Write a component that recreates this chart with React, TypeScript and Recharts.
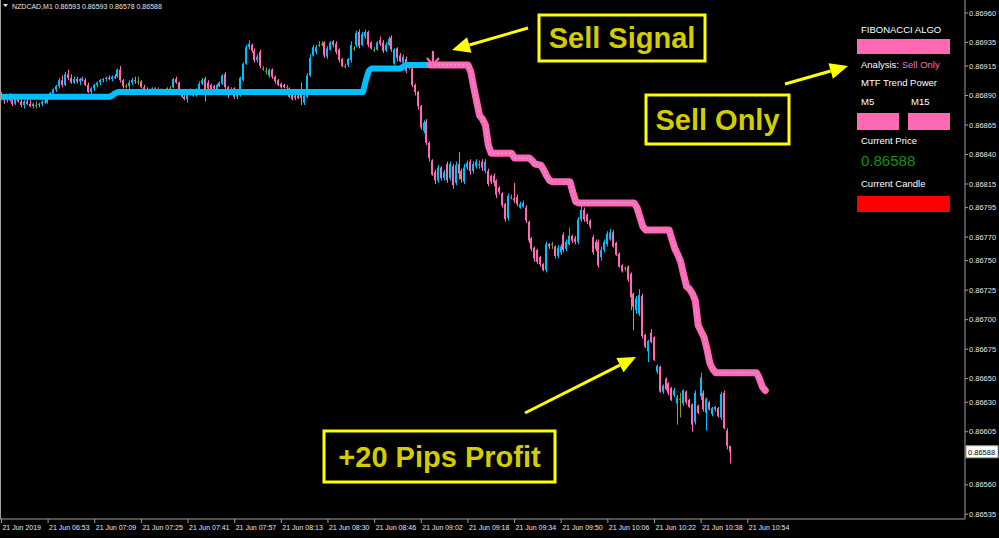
import { Bar, ComposedChart, Line, ReferenceDot, ReferenceLine, XAxis, YAxis } from "recharts";

// prices are stored in points (1 point = 0.00001)
const SYMBOL = "NZDCAD,M1";
const LAST_OHLC = [86593, 86593, 86578, 86588];
const LAST_PRICE = 86588;

const TIME_LABELS = [
  "21 Jun 2019", "21 Jun 06:53", "21 Jun 07:09", "21 Jun 07:25", "21 Jun 07:41", "21 Jun 07:57",
  "21 Jun 08:13", "21 Jun 08:30", "21 Jun 08:46", "21 Jun 09:02", "21 Jun 09:18", "21 Jun 09:34",
  "21 Jun 09:50", "21 Jun 10:06", "21 Jun 10:22", "21 Jun 10:38", "21 Jun 10:54",
];
const BARS_PER_LABEL = 16;
const SLOTS = 331; // chart width in M1 bars, incl. empty space on the right

const Y_TICKS = [
  86960, 86935, 86915, 86890, 86865, 86840, 86815, 86795, 86770, 86750,
  86725, 86700, 86675, 86650, 86630, 86605, 86560, 86535,
];

// open, high, low, close
const CANDLES: [number, number, number, number][] = [
  [86890,86893,86886,86888],[86888,86891,86883,86886],[86886,86890,86884,86889],[86889,86892,86885,86886],
  [86886,86889,86881,86883],[86883,86888,86882,86887],[86887,86890,86884,86885],[86885,86887,86880,86882],
  [86882,86886,86879,86885],[86885,86888,86882,86883],[86883,86886,86880,86881],[86881,86884,86879,86883],
  [86882,86885,86879,86882],[86882,86884,86880,86883],[86883,86886,86881,86885],[86885,86888,86883,86884],
  [86884,86890,86883,86889],[86889,86893,86887,86892],[86892,86896,86890,86895],[86895,86899,86893,86898],
  [86898,86905,86896,86903],[86903,86907,86897,86899],[86899,86910,86898,86908],[86908,86912,86903,86905],
  [86905,86908,86900,86901],[86901,86906,86900,86904],[86904,86906,86900,86902],[86902,86905,86899,86904],
  [86904,86906,86902,86903],[86903,86905,86898,86899],[86899,86901,86892,86893],[86893,86897,86891,86896],
  [86896,86900,86894,86899],[86899,86902,86897,86901],[86901,86904,86899,86903],[86903,86905,86901,86904],
  [86904,86906,86902,86905],[86905,86907,86903,86904],[86904,86907,86902,86906],[86906,86908,86904,86905],
  [86906,86913,86905,86912],[86912,86915,86901,86903],[86903,86904,86896,86898],[86898,86900,86896,86898],
  [86898,86903,86895,86901],[86901,86905,86899,86903],[86903,86906,86900,86902],[86902,86906,86899,86902],
  [86902,86903,86896,86897],[86897,86899,86894,86895],[86895,86897,86892,86894],[86894,86896,86892,86894],
  [86894,86897,86893,86896],[86896,86897,86894,86895],[86895,86897,86893,86895],[86895,86896,86891,86892],
  [86892,86895,86891,86894],[86894,86897,86893,86896],[86896,86898,86894,86896],[86897,86905,86896,86904],
  [86904,86906,86900,86901],[86901,86902,86893,86894],[86894,86895,86888,86889],[86889,86891,86886,86887],
  [86887,86895,86884,86893],[86893,86896,86890,86891],[86891,86893,86889,86890],[86890,86896,86889,86895],
  [86895,86902,86894,86900],[86900,86905,86899,86903],[86904,86906,86885,86895],[86901,86903,86894,86896],
  [86899,86900,86894,86895],[86898,86899,86894,86896],[86895,86900,86894,86899],[86898,86902,86897,86901],
  [86900,86908,86899,86907],[86908,86910,86895,86897],[86897,86898,86888,86894],[86895,86897,86893,86895],
  [86896,86897,86887,86889],[86889,86893,86887,86892],[86891,86906,86889,86905],[86903,86918,86902,86917],
  [86917,86933,86916,86931],[86931,86937,86929,86934],[86933,86934,86926,86928],[86928,86930,86918,86920],
  [86920,86925,86918,86923],[86927,86929,86913,86915],[86913,86915,86911,86913],[86911,86914,86908,86911],
  [86907,86913,86905,86912],[86912,86913,86904,86906],[86906,86907,86900,86902],[86903,86904,86898,86899],
  [86900,86901,86896,86897],[86899,86900,86896,86897],[86897,86899,86894,86897],[86896,86897,86888,86889],
  [86891,86893,86886,86887],[86890,86891,86886,86888],[86890,86891,86887,86888],[86891,86901,86882,86888],
  [86884,86891,86882,86890],[86889,86909,86888,86907],[86907,86925,86906,86922],[86924,86933,86923,86931],
  [86927,86933,86925,86931],[86933,86936,86931,86933],[86934,86936,86932,86934],[86935,86936,86922,86924],
  [86923,86932,86921,86930],[86929,86936,86928,86935],[86936,86937,86931,86933],[86934,86936,86925,86927],
  [86929,86930,86918,86920],[86921,86922,86914,86915],[86915,86917,86913,86915],[86916,86922,86914,86921],
  [86920,86936,86918,86933],[86930,86932,86928,86930],[86933,86945,86931,86943],[86944,86946,86930,86932],
  [86933,86944,86932,86942],[86940,86946,86938,86944],[86944,86945,86931,86933],[86935,86936,86929,86930],
  [86929,86931,86927,86929],[86929,86936,86928,86935],[86937,86940,86932,86934],[86935,86937,86926,86928],
  [86928,86935,86927,86933],[86933,86940,86932,86938],[86939,86941,86927,86929],[86917,86930,86916,86929],
  [86930,86931,86919,86922],[86924,86926,86918,86919],[86918,86925,86916,86923],[86921,86923,86909,86911],
  [86914,86916,86912,86914],[86913,86915,86897,86899],[86899,86900,86890,86893],[86893,86894,86878,86881],
  [86881,86882,86861,86863],[86860,86869,86858,86867],[86868,86870,86848,86850],[86850,86851,86834,86837],
  [86835,86836,86822,86823],[86825,86827,86815,86818],[86818,86831,86816,86829],[86829,86830,86818,86820],
  [86820,86827,86818,86825],[86832,86834,86816,86818],[86820,86834,86818,86832],[86830,86832,86811,86814],
  [86816,86834,86814,86831],[86832,86842,86819,86824],[86826,86828,86816,86819],[86817,86832,86815,86829],
  [86829,86835,86827,86833],[86834,86836,86823,86826],[86826,86834,86824,86832],[86830,86836,86828,86834],
  [86832,86835,86828,86832],[86834,86836,86826,86829],[86826,86836,86824,86834],[86826,86828,86813,86815],
  [86822,86823,86815,86817],[86822,86824,86813,86816],[86818,86819,86803,86806],[86812,86813,86806,86808],
  [86807,86808,86795,86797],[86798,86799,86783,86785],[86786,86807,86784,86805],[86804,86806,86802,86804],
  [86803,86816,86799,86801],[86804,86806,86796,86798],[86795,86800,86794,86798],[86796,86801,86795,86799],
  [86795,86797,86782,86784],[86783,86784,86765,86767],[86769,86770,86758,86760],[86761,86762,86749,86752],
  [86759,86760,86747,86749],[86753,86754,86745,86747],[86747,86748,86741,86742],[86742,86766,86740,86764],
  [86764,86765,86760,86762],[86764,86766,86760,86764],[86762,86763,86752,86754],[86754,86763,86752,86761],
  [86757,86764,86755,86762],[86772,86774,86757,86759],[86760,86768,86758,86766],[86764,86778,86763,86771],
  [86771,86772,86765,86767],[86769,86771,86764,86766],[86766,86787,86764,86785],[86785,86797,86783,86793],
  [86793,86795,86783,86785],[86789,86790,86781,86783],[86784,86785,86777,86779],[86770,86772,86755,86757],
  [86766,86768,86758,86760],[86766,86768,86744,86746],[86753,86762,86750,86759],[86759,86768,86757,86766],
  [86764,86775,86762,86773],[86768,86777,86767,86774],[86774,86776,86761,86762],[86765,86766,86754,86755],
  [86756,86757,86744,86745],[86746,86747,86740,86741],[86744,86745,86741,86744],[86745,86746,86732,86734],
  [86739,86740,86708,86719],[86722,86723,86691,86711],[86708,86720,86705,86718],[86705,86726,86703,86721],
  [86720,86722,86684,86686],[86687,86688,86676,86677],[86673,86683,86664,86682],[86689,86692,86680,86681],
  [86685,86686,86665,86666],[86656,86662,86654,86661],[86660,86661,86638,86639],[86639,86645,86637,86644],
  [86650,86651,86640,86641],[86646,86647,86636,86638],[86642,86643,86631,86632],[86636,86642,86634,86640],
  [86629,86636,86611,86634],[86633,86638,86617,86633],[86629,86641,86627,86640],[86639,86640,86628,86630],
  [86632,86633,86625,86626],[86628,86629,86605,86611],[86613,86640,86611,86638],[86627,86628,86620,86621],
  [86635,86655,86632,86651],[86638,86640,86622,86624],[86621,86634,86606,86633],[86630,86631,86623,86624],
  [86620,86626,86618,86625],[86624,86627,86622,86626],[86625,86626,86617,86618],[86617,86639,86615,86637],
  [86638,86640,86607,86608],[86606,86608,86590,86593],[86593,86593,86578,86588],
];

// trend line vertices [bar index, price]: buy phase then sell phase
const TREND_UP: [number, number][] = [
  [0, 86889], [37, 86889], [38, 86890], [39, 86892], [40, 86893], [124, 86893], [125, 86903],
  [126, 86911], [127, 86913], [137, 86913], [138, 86915], [139, 86916], [148, 86916],
];
const TREND_DN: [number, number][] = [
  [147, 86916], [160, 86916], [161, 86910], [162, 86897], [163, 86885], [164, 86873], [165, 86870],
  [166, 86865], [167, 86848], [168, 86841], [175, 86841], [176, 86837], [181, 86837], [182, 86835],
  [183, 86832], [185, 86831], [186, 86827], [187, 86822], [188, 86818], [189, 86817], [195, 86817],
  [196, 86808], [197, 86800], [198, 86799], [217, 86799], [218, 86795], [219, 86787], [220, 86779],
  [221, 86776], [229, 86776], [230, 86768], [231, 86760], [232, 86755], [233, 86749], [234, 86738],
  [235, 86728], [236, 86726], [237, 86722], [238, 86716], [239, 86695], [240, 86690], [241, 86685],
  [242, 86675], [243, 86663], [244, 86658], [245, 86655], [259, 86655], [260, 86650], [261, 86643],
  [262, 86640],
];
const SIGNAL = { index: 148, price: 86921 };

const BULL = "#00bfff";
const BEAR = "#ff69b4";
const DOJI = "#8c9a1e";
const AXIS = "#a0a0a0";
const TXT = "#e6e6e6";
const FONT = "'Liberation Sans', Arial, sans-serif";

const data = Array.from({ length: SLOTS }, (_, i) => {
  const k = CANDLES[i];
  return {
    i,
    range: k ? [k[2], k[1]] : null,
    o: k ? k[0] : null,
    h: k ? k[1] : null,
    l: k ? k[2] : null,
    c: k ? k[3] : null,
    up: null as number | null,
    dn: null as number | null,
  };
});
TREND_UP.forEach(([i, v]) => (data[i].up = v));
TREND_DN.forEach(([i, v]) => (data[i].dn = v));

const fmt = (v: number) => (v / 100000).toFixed(5);

function Candle(props: any) {
  const { x, y, width, height, payload } = props;
  if (!payload || payload.o == null) return null;
  const { o, h, l, c } = payload;
  const top = Math.min(y, y + height);
  const hh = Math.abs(height);
  const py = (v: number) => (h === l ? top : top + ((h - v) / (h - l)) * hh);
  const cx = Math.floor(x + width / 2);
  const color = c > o ? BULL : c < o ? BEAR : DOJI;
  const bt = py(Math.max(o, c));
  const bb = py(Math.min(o, c));
  return (
    <g>
      <rect x={cx} y={top} width={1} height={Math.max(1, hh)} fill={color} />
      <rect x={cx - 1} y={bt} width={2} height={Math.max(1, bb - bt)} fill={color} />
    </g>
  );
}

function TimeTick(props: any) {
  const { x, y, payload } = props;
  const label = TIME_LABELS[payload.value / BARS_PER_LABEL];
  if (!label) return null;
  return (
    <text x={x + 1} y={y + 5} fill={TXT} fontSize={7} fontFamily={FONT} textAnchor="start">
      {label}
    </text>
  );
}

function PriceTag(props: any) {
  const { viewBox } = props;
  const x = viewBox.x + viewBox.width + 1;
  return (
    <g>
      <rect x={x} y={viewBox.y - 6} width={32} height={12} fill="#fff" stroke={AXIS} />
      <text x={x + 2} y={viewBox.y + 3} fontSize={7.5} fontFamily={FONT} fill="#000">
        {fmt(LAST_PRICE)}
      </text>
    </g>
  );
}

function SignalArrow(props: any) {
  const { cx, cy } = props;
  return (
    <path
      d={`M${cx},${cy - 8} L${cx},${cy + 6} M${cx - 6},${cy - 1} L${cx},${cy + 6} L${cx + 6},${cy - 1}`}
      stroke={BEAR}
      strokeWidth={2.2}
      fill="none"
    />
  );
}

function YellowArrow({ x1, y1, x2, y2 }: { x1: number; y1: number; x2: number; y2: number }) {
  const a = Math.atan2(y2 - y1, x2 - x1);
  const len = 18;
  const hw = 8;
  const bx = x2 - Math.cos(a) * len;
  const by = y2 - Math.sin(a) * len;
  const nx = -Math.sin(a) * hw;
  const ny = Math.cos(a) * hw;
  return (
    <g>
      <line x1={x1} y1={y1} x2={bx} y2={by} stroke="#ffff00" strokeWidth={3} />
      <polygon points={`${x2},${y2} ${bx + nx},${by + ny} ${bx - nx},${by - ny}`} fill="#ffff00" />
    </g>
  );
}

function Callout({ x, y, w, h, text, size }: { x: number; y: number; w: number; h: number; text: string; size: number }) {
  return (
    <g>
      <rect x={x} y={y} width={w} height={h} fill="#000" stroke="#ffff00" strokeWidth={3} />
      <text
        x={x + w / 2}
        y={y + h / 2 + size * 0.36}
        textAnchor="middle"
        fontSize={size}
        fontWeight="bold"
        fontFamily={FONT}
        fill="#d2cc00"
      >
        {text}
      </text>
    </g>
  );
}

export default function App() {
  return (
    <div style={{ position: "fixed", left: 0, top: 0, width: 999, height: 538, background: "#000" }}>
      <ComposedChart width={999} height={538} data={data} margin={{ top: 0, right: 0, left: 0, bottom: 0 }}>
        <XAxis
          dataKey="i"
          type="category"
          ticks={TIME_LABELS.map((_, k) => k * BARS_PER_LABEL)}
          interval={0}
          height={19}
          tickSize={4}
          tickMargin={2}
          axisLine={{ stroke: AXIS }}
          tickLine={{ stroke: AXIS }}
          tick={<TimeTick />}
        />
        <YAxis
          orientation="right"
          type="number"
          width={34}
          domain={[86531, 86971]}
          allowDataOverflow
          ticks={Y_TICKS}
          interval={0}
          tickSize={3}
          tickMargin={1}
          tickFormatter={fmt}
          axisLine={{ stroke: AXIS }}
          tickLine={{ stroke: AXIS }}
          tick={{ fill: TXT, fontSize: 7.5, fontFamily: FONT }}
        />
        <Bar dataKey="range" barSize={3} shape={<Candle />} isAnimationActive={false} />
        <Line dataKey="up" stroke={BULL} strokeWidth={6} dot={false} activeDot={false} connectNulls strokeLinejoin="round" isAnimationActive={false} />
        <Line dataKey="dn" stroke={BEAR} strokeWidth={7} dot={false} activeDot={false} connectNulls strokeLinecap="round" strokeLinejoin="round" isAnimationActive={false} />
        <Line dataKey="dn" stroke="#c8a6ec" strokeWidth={1.2} strokeDasharray="2 2" dot={false} activeDot={false} connectNulls isAnimationActive={false} />
        <ReferenceDot x={SIGNAL.index} y={SIGNAL.price} r={0} shape={<SignalArrow />} />
        <ReferenceLine y={LAST_PRICE} stroke="none" label={<PriceTag />} />
      </ComposedChart>

      <svg width={999} height={538} style={{ position: "absolute", left: 0, top: 0, pointerEvents: "none" }}>
        <line x1={0.5} y1={0} x2={0.5} y2={519} stroke={AXIS} />
        <path d="M3,4 L8,4 L5.5,7 Z" fill={TXT} />
        <text x={12} y={9} fontSize={7} fontFamily={FONT} fill={TXT}>
          {`${SYMBOL}  ${LAST_OHLC.map(fmt).join(" ")}`}
        </text>

        <g fontFamily={FONT} fontSize={9.5} fill="#ffffff">
          <text x={861} y={33}>FIBONACCI ALGO</text>
          <rect x={857} y={39} width={93} height={15} fill={BEAR} />
          <text x={861} y={68}>
            Analysis: <tspan fill={BEAR}>Sell Only</tspan>
          </text>
          <text x={861} y={86}>MTF Trend Power</text>
          <text x={861} y={105}>M5</text>
          <text x={911} y={105}>M15</text>
          <rect x={857} y={113} width={42} height={17} fill={BEAR} />
          <rect x={908} y={113} width={42} height={17} fill={BEAR} />
          <text x={861} y={144}>Current Price</text>
          <text x={861} y={166} fontSize={15} fill="#109010">{fmt(LAST_PRICE)}</text>
          <text x={861} y={187}>Current Candle</text>
          <rect x={857} y={196} width={93} height={16} fill="#ff0000" />
        </g>

        <YellowArrow x1={528} y1={28} x2={452} y2={50} />
        <YellowArrow x1={785} y1={84} x2={848} y2={66} />
        <YellowArrow x1={525} y1={413} x2={636} y2={357} />
        <Callout x={539} y={15} w={166} h={46} text="Sell Signal" size={29} />
        <Callout x={646} y={95} w={143} h={49} text="Sell Only" size={29} />
        <Callout x={324} y={431} w={231} h={51} text="+20 Pips Profit" size={29} />
      </svg>
    </div>
  );
}
